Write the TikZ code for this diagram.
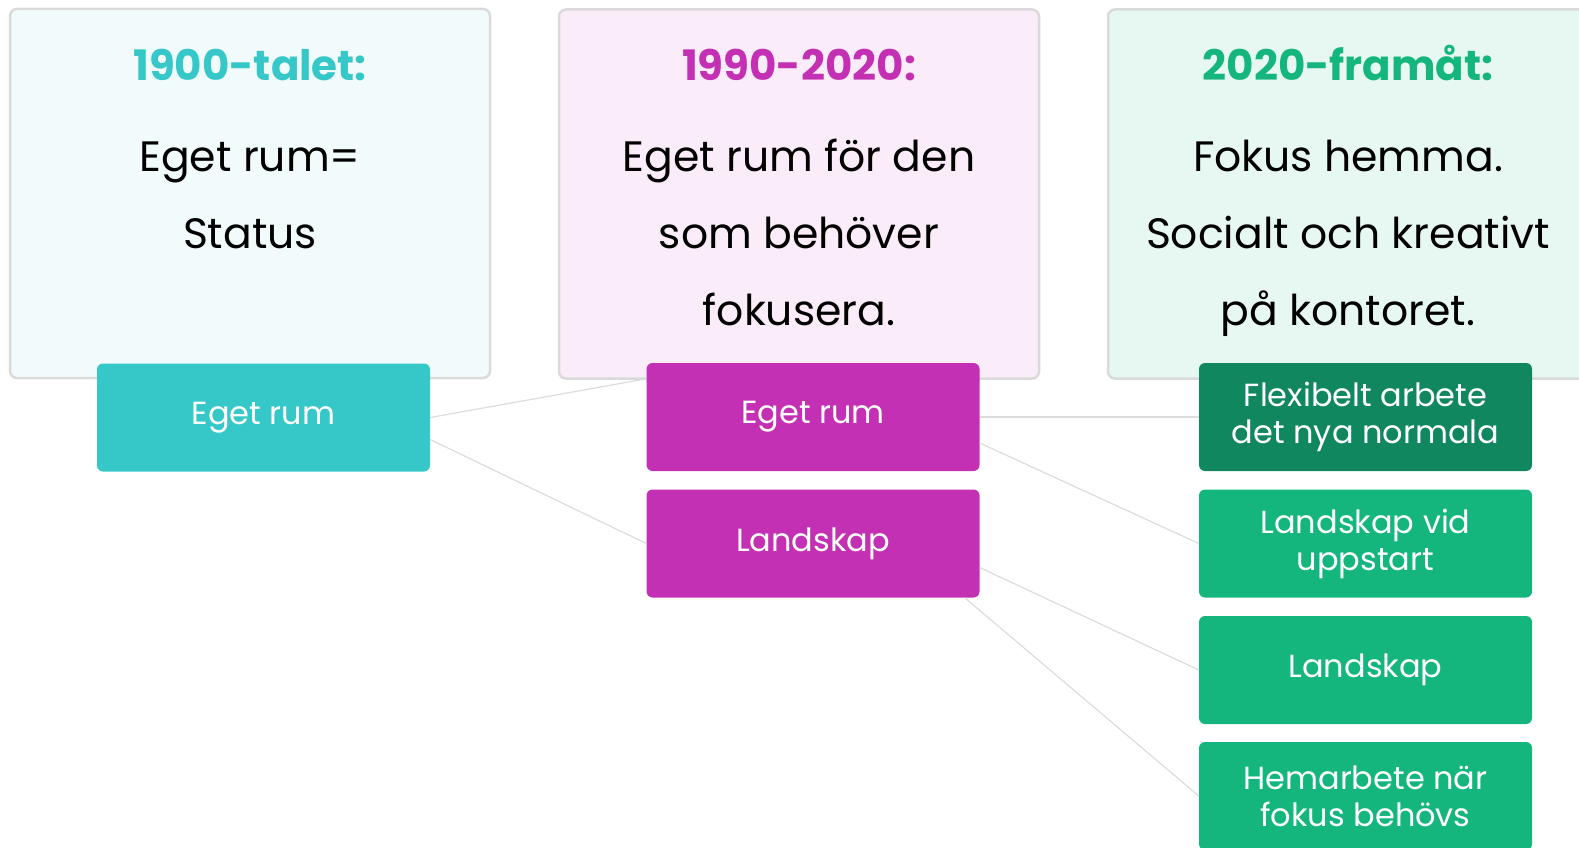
\documentclass[tikz,border=0pt]{standalone}
\usepackage{fontspec}
\setmainfont{Poppins}
\usepackage{tikz}
\usetikzlibrary{positioning,calc}

\definecolor{tealc}{HTML}{36C8C8}
\definecolor{magc}{HTML}{C430B4}
\definecolor{greenc}{HTML}{14B67E}
\definecolor{dgreenc}{HTML}{10875F}
\definecolor{framec}{HTML}{DADADA}
\definecolor{linec}{HTML}{DCDCDC}

\tikzset{
	era/.style={draw=framec,line width=2.5pt,rounded corners=7pt,minimum width=480pt,minimum height=369pt,inner sep=0pt},
	eratitle/.style={anchor=base,font=\fontsize{42}{44}\selectfont\bfseries},
	erabody/.style={anchor=base,align=center,font=\fontsize{42.5}{77}\selectfont},
	item/.style={rounded corners=6pt,minimum width=333pt,minimum height=108pt,inner sep=0pt,align=center,text=white,font=\fontsize{32}{37}\selectfont},
	link/.style={draw=linec,line width=1.2pt}
}

\begin{document}
\begin{tikzpicture}[x=1pt,y=-1pt]
				\useasboundingbox (0,0) rectangle (1579,848);
				% era boxes
				\node[era,fill=tealc!7] (era1) at (250,193.5) {};
				\node[era,fill=magc!9] (era2) at (799,194) {};
				\node[era,fill=greenc!10] (era3) at (1348,194) {};
				\node[eratitle,text=tealc] (t1) at (250,81) {1900-talet:};
				\node[eratitle,text=magc] (t2) at (799,81) {1990-2020:};
				\node[eratitle,text=greenc] (t3) at (1348,81) {2020-framåt:};
				\node[erabody] (b1) at (250,248) {Eget rum=\\Status};
				\node[erabody] (b2) at (799,325) {Eget rum för den\\som behöver\\fokusera.};
				\node[erabody] (b3) at (1348,325) {Fokus hemma.\\Socialt och kreativt\\på kontoret.};
				% items
				\node[item,fill=tealc] (te) at (263.5,417.5) {Eget rum};
				\node[item,fill=magc] (m1) at (813,417) {Eget rum};
				\node[item,fill=magc] (m2) at (813,543.5) {Landskap};
				\node[item,fill=dgreenc] (f1) at (1365.5,417) {Flexibelt arbete\\det nya normala};
				\node[item,fill=greenc] (f2) at (1365.5,543.5) {Landskap vid\\uppstart};
				\node[item,fill=greenc] (f3) at (1365.5,670) {Landskap};
				\node[item,fill=greenc] (f4) at (1365.5,796) {Hemarbete när\\fokus behövs};
				% links
				\coordinate (m1in) at ([yshift=-16pt]m1.north west);
				\draw[link] (te.east) -- (m1in);
				\draw[link] ([yshift=-22pt]te.east) -- (m2.west);
				\draw[link] (m1.east) -- (f1.west);
				\draw[link] ([yshift=-26pt]m1.east) -- (f2.west);
				\draw[link] ([yshift=-24pt]m2.east) -- (f3.west);
				\draw[link] ([xshift=-15pt]m2.south east) -- (f4.west);
\end{tikzpicture}
\end{document}
